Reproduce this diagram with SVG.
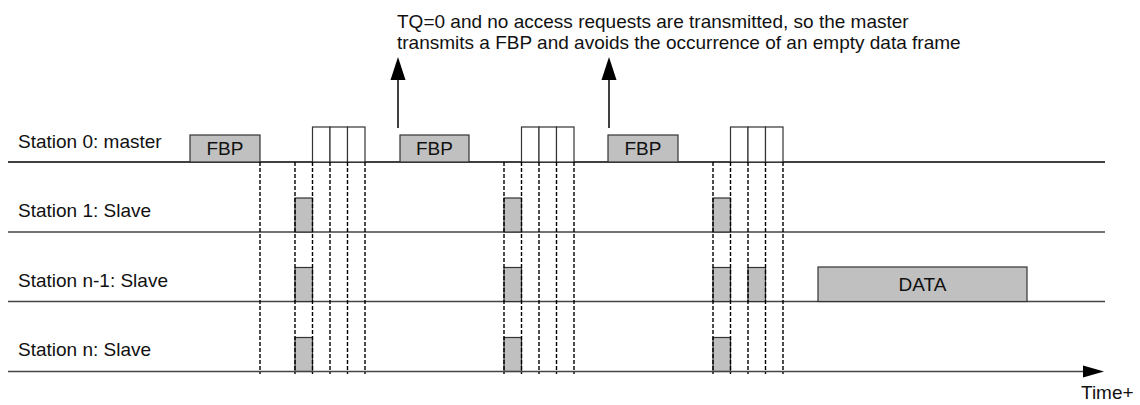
<svg xmlns="http://www.w3.org/2000/svg" width="1140" height="405" viewBox="0 0 1140 405">
<style>
text{font-family:"Liberation Sans",Arial,sans-serif;font-size:19px;fill:#111}
.lbl{text-anchor:start}
.c{text-anchor:middle}
.row{stroke:#444;stroke-width:1.3;fill:none}
.m{stroke:#000}
.box{fill:#c0c0c0;stroke:#333;stroke-width:1.2}
.slot{fill:#fff;stroke:#333;stroke-width:1.2}
.dash{stroke:#000;stroke-width:1.4;stroke-dasharray:4 2;fill:none}
.arr{stroke:#000;stroke-width:1.5;fill:none}
.head{fill:#000}
</style>
<rect width="1140" height="405" fill="#fff"/>
<g id="rows">
<line class="row m" x1="8" y1="162" x2="1105" y2="162"/>
<line class="row" x1="8" y1="232" x2="1105" y2="232"/>
<line class="row" x1="8" y1="301.5" x2="1105" y2="301.5"/>
</g>
<g id="labels">
<text class="lbl" x="18" y="148">Station 0: master</text>
<text class="lbl" x="18" y="217">Station 1: Slave</text>
<text class="lbl" x="18" y="287">Station n-1: Slave</text>
<text class="lbl" x="18" y="356">Station n: Slave</text>
</g>
<g id="note">
<text x="397" y="28">TQ=0 and no access requests are transmitted, so the master</text>
<text x="397" y="49">transmits a FBP and avoids the occurrence of an empty data frame</text>
</g>
<g id="fbp1"><rect class="box" x="190" y="135" width="70" height="27"/><text class="c" x="225" y="155">FBP</text></g>
<g id="fbp2"><rect class="box" x="400" y="135" width="69" height="27"/><text class="c" x="434.5" y="155">FBP</text></g>
<g id="fbp3"><rect class="box" x="608" y="135" width="70" height="27"/><text class="c" x="643" y="155">FBP</text></g>
<g id="slots1">
<rect class="slot" x="312.5" y="127" width="17.5" height="35"/>
<rect class="slot" x="330" y="127" width="17.5" height="35"/>
<rect class="slot" x="347.5" y="127" width="17.5" height="35"/>
</g>
<g id="slots2">
<rect class="slot" x="521.5" y="127" width="17.5" height="35"/>
<rect class="slot" x="539" y="127" width="17.5" height="35"/>
<rect class="slot" x="556.5" y="127" width="17.5" height="35"/>
</g>
<g id="slots3">
<rect class="slot" x="730.5" y="127" width="17.5" height="35"/>
<rect class="slot" x="748" y="127" width="17.5" height="35"/>
<rect class="slot" x="765.5" y="127" width="17.5" height="35"/>
</g>
<g id="req1">
<rect class="box" x="295" y="198" width="17.5" height="34"/>
<rect class="box" x="295" y="267.5" width="17.5" height="34"/>
<rect class="box" x="295" y="337.5" width="17.5" height="34"/>
</g>
<g id="req2">
<rect class="box" x="504" y="198" width="17.5" height="34"/>
<rect class="box" x="504" y="267.5" width="17.5" height="34"/>
<rect class="box" x="504" y="337.5" width="17.5" height="34"/>
</g>
<g id="req3">
<rect class="box" x="713" y="198" width="17.5" height="34"/>
<rect class="box" x="713" y="267.5" width="17.5" height="34"/>
<rect class="box" x="713" y="337.5" width="17.5" height="34"/>
<rect class="box" x="748" y="267.5" width="17.5" height="34"/>
</g>
<g id="data"><rect class="box" x="818" y="267" width="209" height="34.5"/><text class="c" x="922.5" y="291">DATA</text></g>
<g id="connectors">
<path class="dash" d="M260 162V374M295 162V374M312.5 162V374M330 162V374M347.5 162V374M365 162V374"/>
<path class="dash" d="M504 162V374M521.5 162V374M539 162V374M556.5 162V374M574 162V374"/>
<path class="dash" d="M713 162V374M730.5 162V374M748 162V374M765.5 162V374M783 162V374"/>
<line class="arr" x1="398" y1="128" x2="398" y2="74"/>
<polygon class="head" points="398,57 390.5,80 405.5,80"/>
<line class="arr" x1="609" y1="128" x2="609" y2="74"/>
<polygon class="head" points="609,57 601.5,80 616.5,80"/>
<line class="row" x1="8" y1="371.5" x2="1085" y2="371.5"/>
<polygon class="head" points="1104,371.5 1083,365.5 1083,377.5"/>
</g>
<text x="1081" y="399">Time+</text>
</svg>
